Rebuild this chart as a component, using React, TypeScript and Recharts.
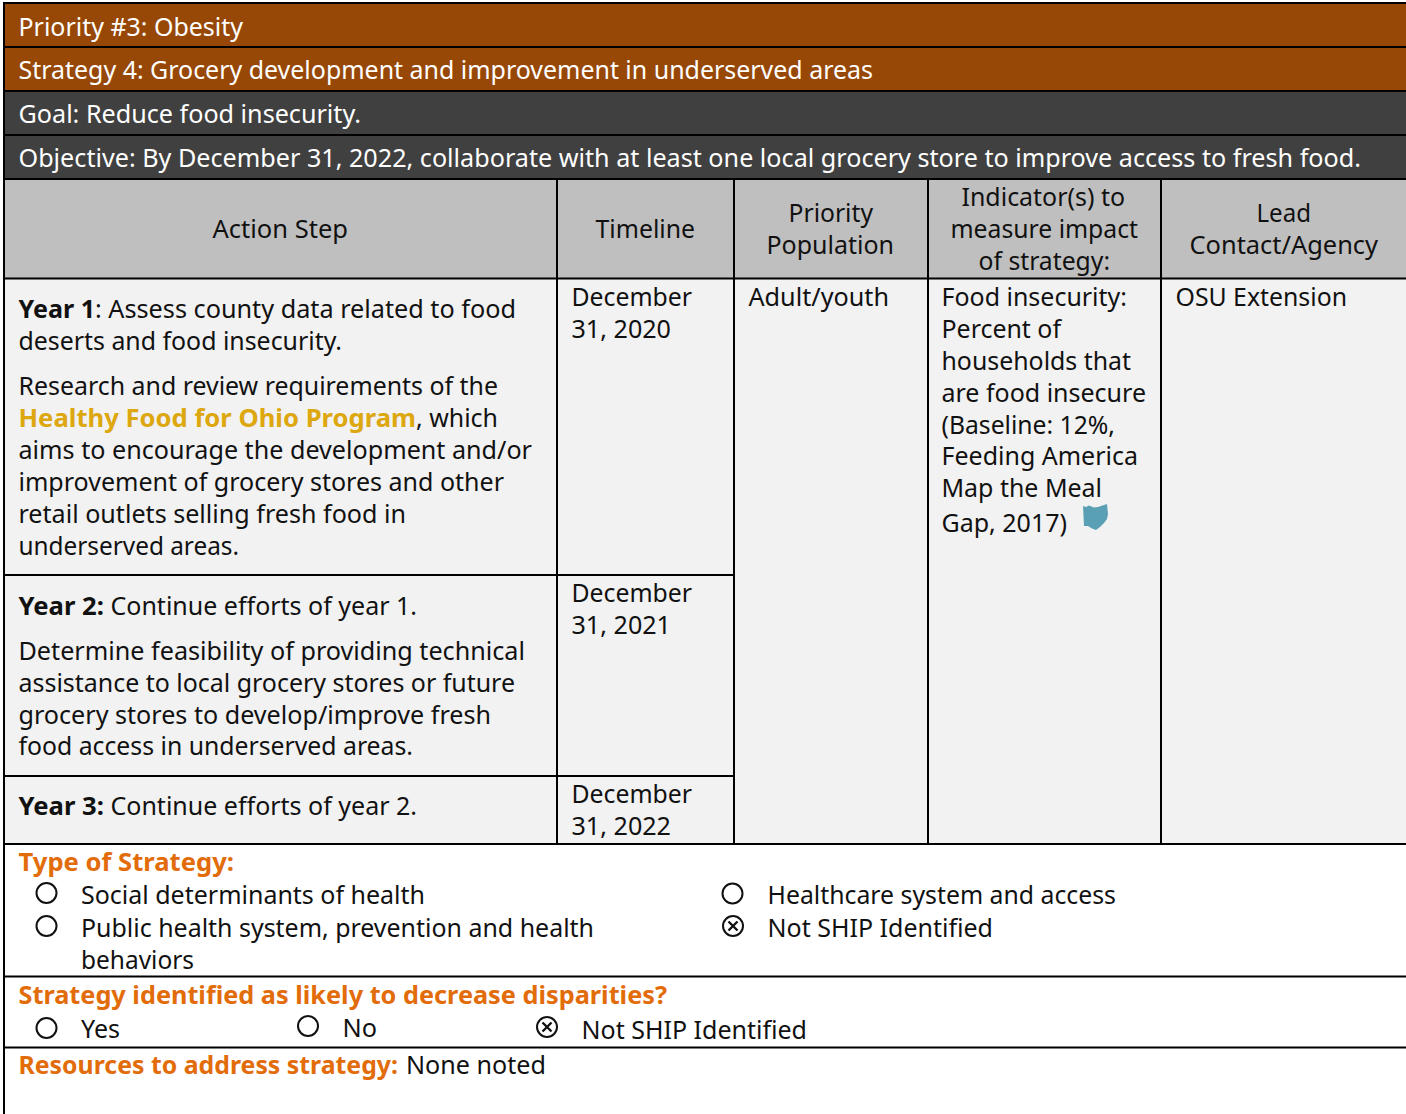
import React from 'react';
import { ComposedChart, XAxis, YAxis, ReferenceArea, ReferenceLine, Scatter } from 'recharts';

const W = 1406;
const H = 1114;
const FONT = '"Noto Sans", "Open Sans", sans-serif';

// ---- text content ----
const bannerLabels = [
  'Priority #3: Obesity',
  'Strategy 4: Grocery development and improvement in underserved areas',
  'Goal: Reduce food insecurity.',
  'Objective: By December 31, 2022, collaborate with at least one local grocery store to improve access to fresh food.',
];
const headerLabels = [
  'Action Step', 'Timeline', 'Priority', 'Population',
  'Indicator(s) to', 'measure impact', 'of strategy:', 'Lead', 'Contact/Agency',
];
const actionLabels = [
  'deserts and food insecurity.',
  'Research and review requirements of the',
  'aims to encourage the development and/or',
  'improvement of grocery stores and other',
  'retail outlets selling fresh food in',
  'underserved areas.',
  ': Assess county data related to food',
  ', which',
  ' Continue efforts of year 1.',
  'Determine feasibility of providing technical',
  'assistance to local grocery stores or future',
  'grocery stores to develop/improve fresh',
  'food access in underserved areas.',
  ' Continue efforts of year 2.',
];
const boldLabels = ['Year 1', 'Year 2:', 'Year 3:'];
const linkLabel = 'Healthy Food for Ohio Program';
const timelineLabels = ['December', '31, 2020', 'December', '31, 2021', 'December', '31, 2022'];
const populationLabels = ['Adult/youth'];
const indicatorLabels = [
  'Food insecurity:', 'Percent of', 'households that', 'are food insecure',
  '(Baseline: 12%,', 'Feeding America', 'Map the Meal', 'Gap, 2017)',
];
const leadLabels = ['OSU Extension'];
const sectionLabels = ['Type of Strategy:', 'Strategy identified as likely to decrease disparities?', 'Resources to address strategy:'];
const optionLabels = [
  'Social determinants of health', 'Public health system, prevention and health', 'behaviors',
  'Healthcare system and access', 'Not SHIP Identified', 'Yes', 'No', 'Not SHIP Identified', 'None noted',
];

// ---- layout (left x, baseline y, right x), parallel to the text lists ----
const bannerPos = [[18.5, 35.5, 243], [18.5, 79, 873], [18.5, 123, 361], [18.5, 167, 1361]];
const headerPos = [
  [212.5, 238, 348], [595.5, 238, 695], [788.5, 222, 873], [766.5, 254, 894],
  [961.5, 206, 1125], [950.5, 238, 1138], [978.5, 270, 1110], [1256.5, 222, 1311], [1189.5, 254, 1378],
];
const actionPos = [
  [18.5, 350, 342], [18.5, 395, 498], [18.5, 459, 532], [18.5, 491, 504], [18.5, 523, 406], [18.5, 555, 239],
  [95, 318, 516], [416, 427, 498], [104, 615, 417], [18.5, 660, 525], [18.5, 692, 515], [18.5, 723.5, 491],
  [18.5, 755, 413], [104, 815, 417],
];
const boldPos = [[18.5, 318, 95], [18.5, 615, 104], [18.5, 815, 104]];
const linkPos = [18.5, 427, 416];
const timelinePos = [[571.5, 306, 692], [571.5, 338, 671], [571.5, 602, 692], [571.5, 634, 671], [571.5, 803, 692], [571.5, 835, 671]];
const populationPos = [[748.5, 306, 889]];
const indicatorPos = [
  [941.5, 306, 1127], [941.5, 338, 1061], [941.5, 370, 1131], [941.5, 402, 1146],
  [941.5, 434, 1115], [941.5, 465, 1138], [941.5, 497, 1102], [941.5, 532, 1067],
];
const leadPos = [[1175.5, 306, 1347]];
const sectionPos = [[18.5, 871, 234], [18.5, 1004, 667], [18.5, 1074, 398]];
const optionPos = [
  [81, 904, 425], [81, 937, 594], [81, 969, 194], [767.5, 904, 1116], [767.5, 937, 993],
  [81, 1038, 120], [342.5, 1037, 377], [581.5, 1039, 807], [406, 1074, 546],
];

const BROWN = '#984806';
const DARK = '#404040';
const GREY = '#BFBFBF';
const LIGHT = '#F2F2F2';
const ORANGE = '#E36C0A';
const GOLD = '#DDA70F';

const fills = [
  { x1: 4, x2: W, y1: 3, y2: 47, fill: BROWN },
  { x1: 4, x2: W, y1: 47, y2: 91, fill: BROWN },
  { x1: 4, x2: W, y1: 91, y2: 135, fill: DARK },
  { x1: 4, x2: W, y1: 135, y2: 179, fill: DARK },
  { x1: 4, x2: W, y1: 179, y2: 278, fill: GREY },
  { x1: 4, x2: W, y1: 278, y2: 844, fill: LIGHT },
];
const hLines = [
  [3, 3, W], [47, 3, W], [91, 3, W], [135, 3, W], [179, 3, W], [278.5, 3, W], [575, 4, 734], [776, 4, 734],
  [844, 3, W], [976.5, 3, W], [1047.5, 3, W],
];
const vLines = [[4, 2, H], [557, 179, 844], [734, 179, 844], [928, 179, 844], [1161, 179, 844]];

const circles = [[46.5, 893], [46.5, 926], [732.5, 893.5], [46.5, 1028], [308, 1026]];
const crossed = [[733, 926], [547, 1027]];
const ohio = [[1095.5, 517]];

type Style = { fill: string; weight: number };
const mk = (labels: string[], pos: number[][], s: Style) =>
  labels.map((text, i) => ({ text, x: pos[i][0], y: pos[i][1], end: pos[i][2], ...s }));

const BLACK: Style = { fill: '#111', weight: 400 };
const textRows = [
  ...mk(bannerLabels, bannerPos, { fill: '#FFFFFF', weight: 400 }),
  ...mk(headerLabels, headerPos, BLACK),
  ...mk(actionLabels, actionPos, BLACK),
  ...mk(boldLabels, boldPos, { fill: '#111', weight: 700 }),
  ...mk([linkLabel], [linkPos], { fill: GOLD, weight: 700 }),
  ...mk(timelineLabels, timelinePos, BLACK),
  ...mk(populationLabels, populationPos, BLACK),
  ...mk(indicatorLabels, indicatorPos, BLACK),
  ...mk(leadLabels, leadPos, BLACK),
  ...mk(sectionLabels, sectionPos, { fill: ORANGE, weight: 700 }),
  ...mk(optionLabels, optionPos, BLACK),
];

const TextShape = (p: any) => {
  const d = p.payload;
  return (
    <text
      x={p.cx}
      y={p.cy}
      xmlSpace="preserve"
      fontFamily={FONT}
      fontSize={25.5}
      fontWeight={d.weight}
      fill={d.fill}
      textLength={d.end - d.x}
      lengthAdjust="spacingAndGlyphs"
    >
      {d.text}
    </text>
  );
};
const CircleShape = (p: any) => (
  <circle cx={p.cx} cy={p.cy} r={10} fill="none" stroke="#111" strokeWidth={2} />
);
const CrossShape = (p: any) => (
  <g stroke="#111" fill="none" strokeWidth={2}>
    <circle cx={p.cx} cy={p.cy} r={10} />
    <path strokeWidth={2.4} d={`M${p.cx - 4.5} ${p.cy - 4.5}L${p.cx + 4.5} ${p.cy + 4.5}M${p.cx + 4.5} ${p.cy - 4.5}L${p.cx - 4.5} ${p.cy + 4.5}`} />
  </g>
);
const OhioShape = (p: any) => (
  <path
    transform={`translate(${p.cx - 12.5} ${p.cy - 13})`}
    fill="#5AA0B5"
    d="M0 2 L3 3 L6 1.5 L11 3.5 L15 3 L24 0 L25 10 L24 15 L21 19 L17 23 L13 26 L9 24.5 L5 22 L1 22 Z"
  />
);

const toPts = (a: number[][]) => a.map(([x, y]) => ({ x, y }));

export default function App() {
  return (
    <div style={{ position: 'absolute', left: 0, top: 0, width: W, height: H, background: '#fff' }}>
      <ComposedChart width={W} height={H} margin={{ top: 0, right: 0, bottom: 0, left: 0 }} data={[]}>
        <XAxis type="number" dataKey="x" domain={[0, W]} hide />
        <YAxis type="number" dataKey="y" domain={[0, H]} reversed hide />
        {fills.map((f, i) => (
          <ReferenceArea key={i} x1={f.x1} x2={f.x2} y1={f.y1} y2={f.y2} fill={f.fill} fillOpacity={1} stroke="none" />
        ))}
        {hLines.map(([y, a, b], i) => (
          <ReferenceLine key={`h${i}`} segment={[{ x: a, y }, { x: b, y }]} stroke="#000" strokeWidth={2} />
        ))}
        {vLines.map(([x, a, b], i) => (
          <ReferenceLine key={`v${i}`} segment={[{ x, y: a }, { x, y: b }]} stroke="#000" strokeWidth={2} />
        ))}
        <Scatter data={textRows} dataKey="y" shape={TextShape} isAnimationActive={false} />
        <Scatter data={toPts(circles)} dataKey="y" shape={CircleShape} isAnimationActive={false} />
        <Scatter data={toPts(crossed)} dataKey="y" shape={CrossShape} isAnimationActive={false} />
        <Scatter data={toPts(ohio)} dataKey="y" shape={OhioShape} isAnimationActive={false} />
      </ComposedChart>
    </div>
  );
}
